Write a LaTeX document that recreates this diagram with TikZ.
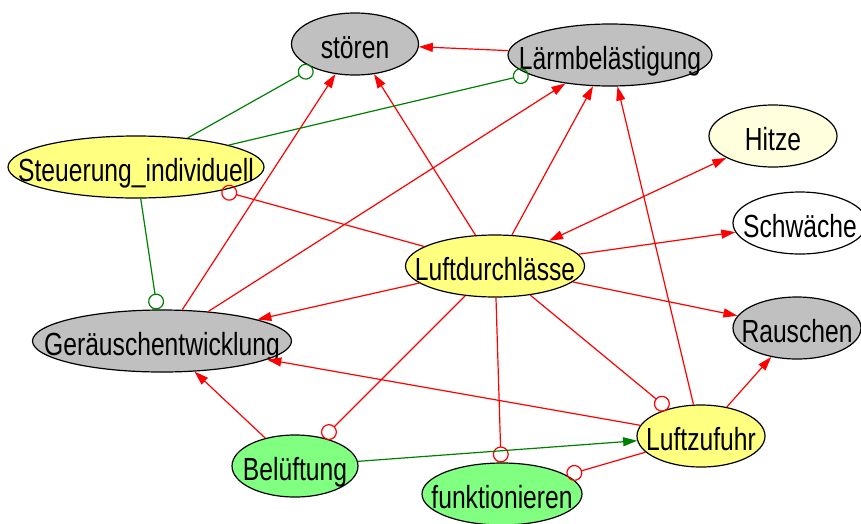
\documentclass[tikz,border=0pt]{standalone}
\usepackage{fontspec}
\setmainfont{Liberation Sans}[FakeStretch=0.77]
\usetikzlibrary{shapes.geometric,arrows.meta}
\newcommand\nodetext[1]{\makebox[0pt]{#1}}
\definecolor{nodegray}{RGB}{192,192,192}
\definecolor{nodeyellow}{RGB}{255,255,128}
\definecolor{nodecream}{RGB}{255,255,221}
\definecolor{nodegreen}{RGB}{128,255,128}
\definecolor{linkgreen}{RGB}{0,128,0}
\begin{document}
\begin{tikzpicture}[x=1pt,y=-1pt,
  concept/.style={ellipse, draw=black, line width=1.2pt, inner sep=0pt,
    minimum height=62pt, text height=28pt, text depth=0pt,
    font=\fontsize{32}{34}\selectfont},
  cause/.style={draw=red, line width=1.2pt, -{Triangle[length=14pt,width=9pt]}},
  mutual/.style={draw=red, line width=1.2pt, {Triangle[length=14pt,width=9pt]}-{Triangle[length=14pt,width=9pt]}},
  inhibit/.style={draw=red, line width=1.2pt, -{Circle[open,length=16pt,width=16pt]}},
  ginhibit/.style={draw=linkgreen, line width=1.2pt, -{Circle[open,length=16pt,width=16pt]}},
  gcause/.style={draw=linkgreen, line width=1.2pt, -{Triangle[length=14pt,width=9pt]}},
]
\useasboundingbox (0,0) rectangle (861,523);
\clip (0,0) rectangle (861,523);
\fill[white] (0,0) rectangle (861,523);

% concepts
\node[concept, fill=nodegray,   minimum width=127pt] (stoeren)    at (355,44)  {\nodetext{stören}};
\node[concept, fill=nodegray,   minimum width=204pt] (laerm)      at (610,55)  {\nodetext{Lärmbelästigung}};
\node[concept, fill=nodecream,  minimum width=128pt] (hitze)      at (773,136) {\nodetext{Hitze}};
\node[concept, fill=white,      minimum width=134pt] (schwaeche)  at (800,223) {\nodetext{Schwäche}};
\node[concept, fill=nodegray,   minimum width=128pt] (rauschen)   at (797,328) {\nodetext{Rauschen}};
\node[concept, fill=nodeyellow, minimum width=256pt] (steuerung)  at (136,167) {\nodetext{Steuerung\_individuell}};
\node[concept, fill=nodeyellow, minimum width=179pt] (luftd)      at (495,266) {\nodetext{Luftdurchlässe}};
\node[concept, fill=nodegray,   minimum width=259pt] (geraeusch)  at (162,341) {\nodetext{Geräuschentwicklung}};
\node[concept, fill=nodeyellow, minimum width=128pt] (zufuhr)     at (701,436) {\nodetext{Luftzufuhr}};
\node[concept, fill=nodegreen,  minimum width=126pt] (belueftung) at (295,466) {\nodetext{Belüftung}};
\node[concept, fill=nodegreen,  minimum width=160pt] (funkt)      at (502,494) {\nodetext{funktionieren}};

% causal links
\draw[cause] (laerm) -- (stoeren);
\draw[cause] (luftd) -- (stoeren);
\draw[cause] (geraeusch) -- (stoeren);
\draw[cause] (geraeusch) -- (laerm);
\draw[cause] (luftd) -- (laerm);
\draw[cause] (zufuhr) -- (laerm);
\draw[mutual] (luftd) -- (hitze);
\draw[cause] (luftd) -- (schwaeche);
\draw[cause] (luftd) -- (rauschen);
\draw[cause] (zufuhr) -- (rauschen);
\draw[cause] (luftd) -- (geraeusch);
\draw[cause] (zufuhr) -- (geraeusch);
\draw[cause] (belueftung) -- (geraeusch);

% inhibiting links
\draw[inhibit] (luftd) -- (steuerung);
\draw[inhibit] (luftd) -- (belueftung);
\draw[inhibit] (luftd) -- (funkt);
\draw[inhibit] (luftd) -- (zufuhr);
\draw[inhibit] (zufuhr) -- (funkt);

% links from individual control and ventilation
\draw[ginhibit] (steuerung) -- (stoeren);
\draw[ginhibit] (steuerung) -- (laerm);
\draw[ginhibit] (steuerung) -- (geraeusch);
\draw[gcause] (belueftung) -- (zufuhr);
\end{tikzpicture}
\end{document}
